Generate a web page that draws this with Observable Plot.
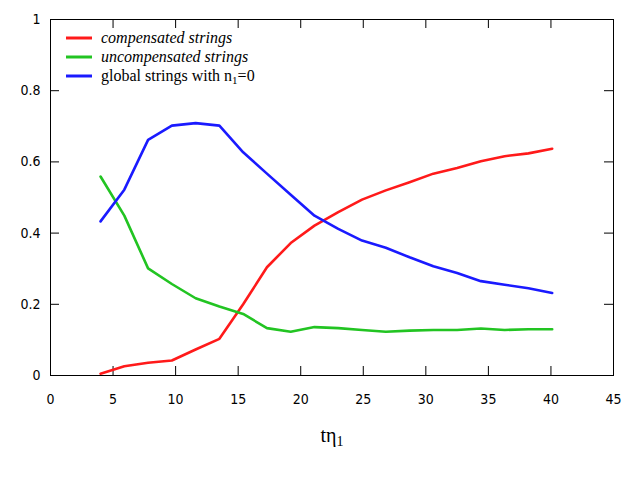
<!DOCTYPE html>
<html>
<head>
<meta charset="utf-8">
<script src="https://cdn.jsdelivr.net/npm/d3@7"></script>
<script src="https://cdn.jsdelivr.net/npm/@observablehq/plot@0.6"></script>
<style>
  html, body { margin: 0; padding: 0; background: #fff; }
  #wrap { position: relative; width: 640px; height: 480px; }
  #legend { position: absolute; left: 66px; top: 28px; font-family: "Liberation Serif", serif; font-size: 16px; line-height: 19px; color: #000; }
  #legend .row { display: flex; align-items: center; height: 19px; }
  #legend svg { margin-right: 9px; }
  sub { font-size: 11px; vertical-align: -3px; line-height: 0; }
</style>
</head>
<body>
<div id="wrap"></div>
<script>
const tEta = [4, 5.9, 7.8, 9.7, 11.6, 13.5, 15.4, 17.3, 19.2, 21.1, 23.0, 24.9, 26.8, 28.7, 30.6, 32.5, 34.4, 36.3, 38.2, 40.1];
const compensated = [0.005, 0.026, 0.036, 0.042, 0.073, 0.103, 0.20, 0.304, 0.372, 0.421, 0.459, 0.494, 0.520, 0.543, 0.567, 0.583, 0.602, 0.616, 0.624, 0.637];
const uncompensated = [0.559, 0.449, 0.301, 0.257, 0.217, 0.194, 0.173, 0.133, 0.123, 0.136, 0.133, 0.128, 0.123, 0.126, 0.128, 0.128, 0.132, 0.128, 0.130, 0.130];
const globalN1 = [0.433, 0.522, 0.662, 0.702, 0.709, 0.702, 0.627, 0.567, 0.508, 0.449, 0.412, 0.379, 0.359, 0.332, 0.307, 0.288, 0.265, 0.255, 0.245, 0.232];
const seriesNames = ["compensated strings", "uncompensated strings", "global strings with n1=0"];
const seriesColors = ["#ff1a1a", "#22c422", "#1a1aff"];
const xTicks = [0, 5, 10, 15, 20, 25, 30, 35, 40, 45];
const yTicks = [0, 0.2, 0.4, 0.6, 0.8, 1];
const yTickLabels = ["0", "0.2", "0.4", "0.6", "0.8", "1"];

const allSeries = [compensated, uncompensated, globalN1];
const data = allSeries.flatMap((vals, s) => vals.map((v, i) => ({x: tEta[i], y: v, series: seriesNames[s]})));

const W = 640, H = 480, mL = 50, mR = 27, mT = 19, mB = 105;
const frameW = W - mL - mR, frameH = H - mT - mB;
const tickLen = 9;
const axisFont = "DejaVu Sans Condensed, DejaVu Sans, sans-serif";

const chart = Plot.plot({
  width: W, height: H,
  marginLeft: mL, marginRight: mR, marginTop: mT, marginBottom: mB,
  style: {background: "#fff", color: "#000"},
  x: {domain: [0, 45]},
  y: {domain: [0, 1]},
  color: {domain: seriesNames, range: seriesColors},
  marks: [
    Plot.frame({stroke: "#000", strokeWidth: 1}),
    // inward ticks, bottom & top
    Plot.tickX(xTicks.slice(1, -1), {x: d => d, insetTop: frameH - tickLen, stroke: "#000", strokeWidth: 1}),
    Plot.tickX(xTicks.slice(1, -1), {x: d => d, insetBottom: frameH - tickLen, stroke: "#000", strokeWidth: 1}),
    // inward ticks, left & right
    Plot.tickY(yTicks.slice(1, -1), {y: d => d, insetRight: frameW - tickLen, stroke: "#000", strokeWidth: 1}),
    Plot.tickY(yTicks.slice(1, -1), {y: d => d, insetLeft: frameW - tickLen, stroke: "#000", strokeWidth: 1}),
    Plot.axisX({ticks: xTicks, tickSize: 0, tickPadding: 19, label: null, fontSize: 14, fontFamily: axisFont}),
    Plot.axisY({ticks: yTicks, tickSize: 0, tickPadding: 10, label: null, fontSize: 14, fontFamily: axisFont,
      tickFormat: d => yTickLabels[yTicks.indexOf(d)]}),
    Plot.line(data, {x: "x", y: "y", z: "series", stroke: "series", strokeWidth: 2.6}),
    Plot.text(["tη1"], {frameAnchor: "bottom", dy: 66, fontSize: 20, fontFamily: "Liberation Serif, serif", fill: "#000", className: "xlabel"})
  ]
});

const wrap = document.getElementById("wrap");
wrap.appendChild(chart);

// subscript for the axis label
d3.select(chart).selectAll("g.xlabel text").each(function () {
  const t = d3.select(this);
  t.text(null);
  t.append("tspan").text("tη");
  t.append("tspan").attr("font-size", 14).attr("dy", 4).text("1");
});

// legend overlay (inside the frame, top-left)
const legend = document.createElement("div");
legend.id = "legend";
const legendHTML = [
  "<i>compensated strings</i>",
  "<i>uncompensated strings</i>",
  "global strings with n<sub>1</sub>=0"
];
seriesNames.forEach((name, i) => {
  const row = document.createElement("div");
  row.className = "row";
  row.innerHTML = `<svg width="26" height="6"><line x1="0" x2="26" y1="3" y2="3" stroke="${seriesColors[i]}" stroke-width="3"/></svg><span>${legendHTML[i]}</span>`;
  legend.appendChild(row);
});
wrap.appendChild(legend);
</script>
</body>
</html>
